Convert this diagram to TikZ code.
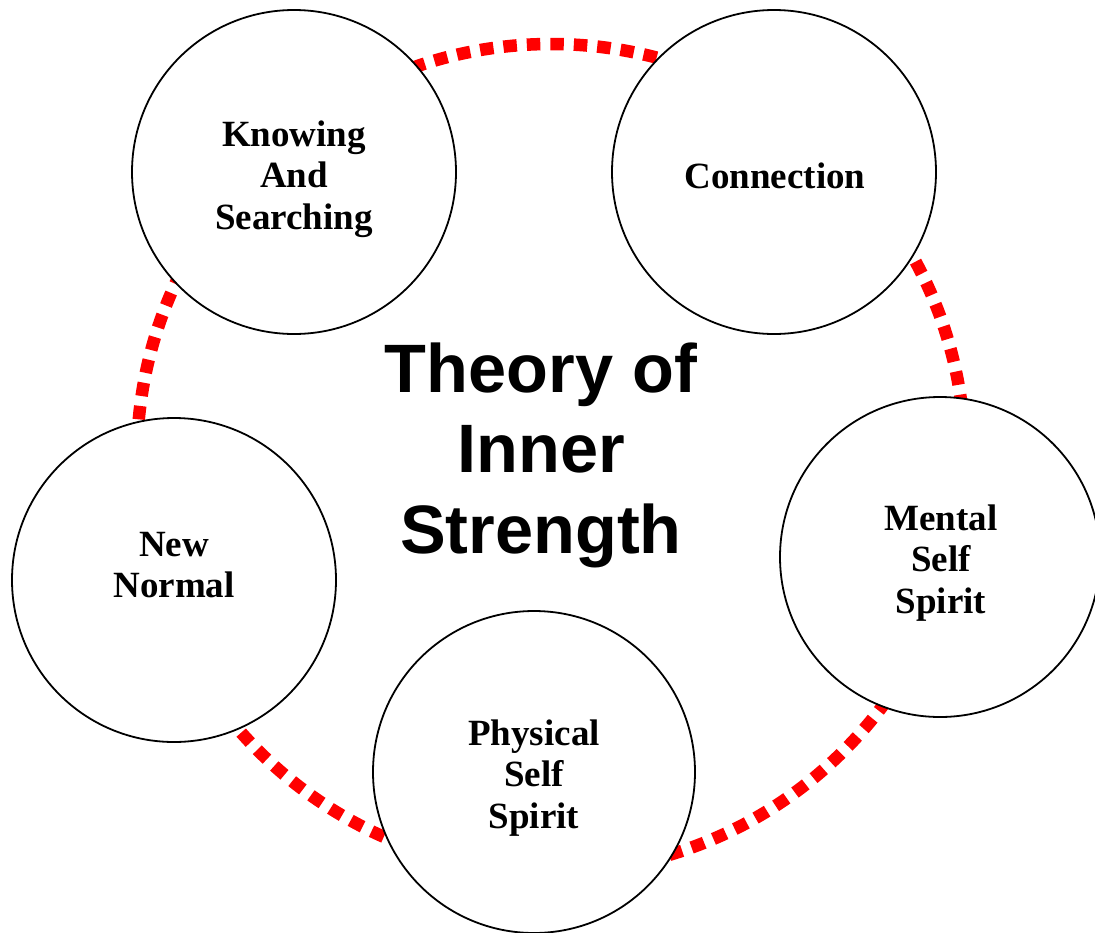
\documentclass[tikz,border=0pt]{standalone}
\usepackage{fontspec}
\setmainfont{Liberation Serif}
\newfontfamily\titlefont{Liberation Sans}
\begin{document}
\begin{tikzpicture}[x=1pt,y=-1pt,
  ring/.style={draw=red, line width=12.5pt, dash pattern=on 13.5pt off 10pt},
  topic/.style={circle, draw=black, line width=1.8pt, fill=white, minimum size=324pt, inner sep=0pt},
  lbl/.style={align=center, font=\bfseries\fontsize{37}{41.5}\selectfont},
  title/.style={align=center, font=\titlefont\bfseries\fontsize{68.5}{80.5}\selectfont}]
\useasboundingbox (0,0) rectangle (1095,932);
\coordinate (ctr) at (551,458);
\draw[ring] (ctr) circle[radius=414];
\node[topic] (ks) at (294,172) {};
\node[topic] (cn) at (774,172) {};
\node[topic, minimum size=320pt] (ms) at (940,557) {};
\node[topic, minimum size=322pt] (ps) at (534,772) {};
\node[topic] (nn) at (174,580) {};
\node[lbl] (ksl) at (294,179) {Knowing\\And\\Searching};
\node[lbl] (cnl) at (775,176) {Connection};
\node[lbl] (msl) at (941,563) {Mental\\Self\\Spirit};
\node[lbl] (psl) at (534,778) {Physical\\Self\\Spirit};
\node[lbl] (nnl) at (174,565) {New\\Normal};
\node[title] (t) at (541,455) {Theory of\\Inner\\Strength};
\end{tikzpicture}
\end{document}
